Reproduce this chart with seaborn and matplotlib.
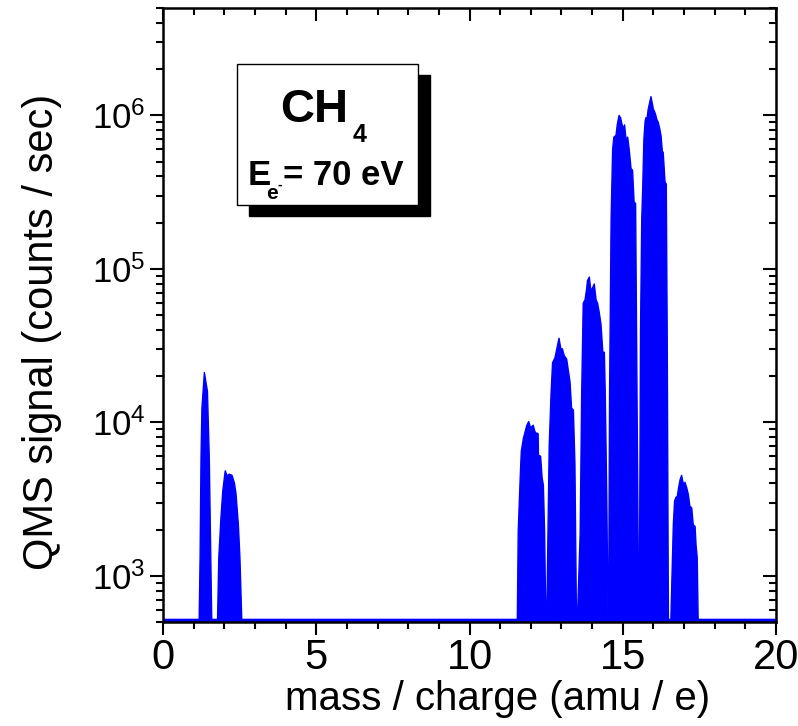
import numpy as np
import pandas as pd
import seaborn as sns
import matplotlib.pyplot as plt
from matplotlib.ticker import MultipleLocator, LogLocator, NullFormatter
from matplotlib.patches import Rectangle

base = 520  # background level of the scan

# peaks (m/z, counts/sec)
mz_h = [1.18, 1.21, 1.24, 1.27, 1.35, 1.45, 1.51, 1.56, 1.59]
sig_h = [base, 1310, 5840, 12300, 21100, 15900, 5840, 1310, base]

mz_h2 = [1.78, 1.82, 1.89, 1.95, 2.03, 2.10, 2.16, 2.25, 2.33, 2.38, 2.46, 2.51, 2.57]
sig_h2 = [base, 1310, 2380, 3560, 4830, 4460, 4590, 4520, 4020, 3460, 2140, 1310, base]

mz_c = [11.56, 11.59, 11.65, 11.69, 11.76, 11.82, 11.87, 11.93, 12.00, 12.04, 12.08,
        12.13, 12.17, 12.21, 12.24, 12.25, 12.32, 12.37, 12.41, 12.45, 12.49]
sig_c = [base, 1960, 4140, 6480, 7880, 8740, 9570, 10100, 9140, 9420, 9570,
         8740, 8490, 8490, 8400, 6110, 6010, 4330, 3900, 1960, base]

mz_ch = [12.52, 12.60, 12.66, 12.71, 12.79, 12.85, 12.92, 12.98, 13.03, 13.09, 13.17,
         13.22, 13.28, 13.33, 13.39, 13.44, 13.49]
sig_ch = [base, 6950, 15200, 24400, 26400, 30100, 35300, 30100, 30100, 27200, 25800,
          22000, 18300, 12400, 12000, 5340, base]

mz_ch2 = [13.52, 13.61, 13.66, 13.71, 13.77, 13.82, 13.85, 13.91, 13.96, 14.02, 14.07,
          14.13, 14.18, 14.23, 14.29, 14.35, 14.40, 14.43, 14.48, 14.52]
sig_ch2 = [base, 1870, 15200, 59500, 62900, 73600, 83800, 88400, 71600, 75500, 79600,
           62900, 59500, 52400, 43500, 28600, 28600, 15200, 3160, base]

mz_ch3 = [14.54, 14.57, 14.62, 14.67, 14.71, 14.78, 14.82, 14.88, 14.93, 14.98, 15.02,
          15.06, 15.11, 15.16, 15.21, 15.27, 15.32, 15.37, 15.42, 15.45, 15.49, 15.52]
sig_ch3 = [base, 15200, 210000, 600000, 721000, 740000, 866000, 998000, 962000, 866000, 822000,
           866000, 684000, 721000, 600000, 450000, 438000, 273000, 266000, 43500, 3160, base]

mz_ch4 = [15.54, 15.58, 15.62, 15.65, 15.69, 15.73, 15.76, 15.79, 15.83, 15.89, 15.92,
          15.96, 16.00, 16.03, 16.07, 16.11, 16.16, 16.21, 16.25, 16.29, 16.32, 16.38,
          16.42, 16.45, 16.49]
sig_ch4 = [base, 40000, 211000, 330000, 698000, 918000, 966000, 942000, 1094000, 1239000, 1322000,
           1208000, 1094000, 1067000, 1014000, 942000, 897000, 812000, 734000, 586000, 573000, 366000,
           357000, 40000, base]

mz_17 = [16.57, 16.62, 16.65, 16.69, 16.73, 16.78, 16.82, 16.87, 16.92, 16.96, 17.00,
         17.03, 17.09, 17.14, 17.19, 17.25, 17.30, 17.36, 17.39, 17.43, 17.46]
sig_17 = [base, 1310, 2150, 3050, 3240, 3290, 3730, 4220, 4510, 4120, 3820,
          4070, 3730, 3380, 2840, 2770, 2150, 2100, 1600, 1310, base]

mz = [0] + mz_h + mz_h2 + mz_c + mz_ch + mz_ch2 + mz_ch3 + mz_ch4 + mz_17 + [20]
sig = [base] + sig_h + sig_h2 + sig_c + sig_ch + sig_ch2 + sig_ch3 + sig_ch4 + sig_17 + [base]
df = pd.DataFrame({'mz': mz, 'signal': sig})

sns.set_style('ticks')
plt.rcParams['font.family'] = ['Liberation Sans', 'DejaVu Sans']
plt.rcParams['mathtext.fontset'] = 'custom'
plt.rcParams['mathtext.rm'] = 'Liberation Sans'
plt.rcParams['text.color'] = 'black'
plt.rcParams['axes.labelcolor'] = 'black'
plt.rcParams['xtick.color'] = 'black'
plt.rcParams['ytick.color'] = 'black'

fig = plt.figure(figsize=(7.98, 7.26), dpi=100)
ax = fig.add_axes([163 / 798, 1 - 622 / 726, 613 / 798, 614 / 726])

ax.set_yscale('log')
ax.fill_between(df['mz'], df['signal'], 1, color='blue', lw=0)
sns.lineplot(data=df, x='mz', y='signal', color='blue', lw=1, ax=ax, sort=False, estimator=None)

ax.set_xlim(0, 20)
ax.set_ylim(500, 5e6)
ax.set_xlabel('mass / charge (amu / e)', fontsize=29)
ax.set_ylabel('QMS signal (counts / sec)', fontsize=30)
ax.xaxis.set_label_coords(0.545, -0.094)
ax.yaxis.set_label_coords(-0.165, 0.472)

for s in ax.spines.values():
    s.set_visible(True)
    s.set_linewidth(1.8)
    s.set_color('black')

# inward ticks on top and right sides
for where in ('top', 'right'):
    if where == 'top':
        sec = ax.secondary_xaxis(where)
        sec.xaxis.set_major_locator(MultipleLocator(5))
        sec.xaxis.set_minor_locator(MultipleLocator(1))
        sec.xaxis.set_major_formatter(NullFormatter())
    else:
        sec = ax.secondary_yaxis(where)
        sec.set_yscale('log')
        sec.yaxis.set_major_locator(LogLocator(base=10, numticks=10))
        sec.yaxis.set_minor_locator(LogLocator(base=10, subs=np.arange(2, 10), numticks=20))
        sec.yaxis.set_major_formatter(NullFormatter())
        sec.yaxis.set_minor_formatter(NullFormatter())
    sec.tick_params(which='both', direction='in', width=1.5, color='black')
    sec.tick_params(which='major', length=9.5)
    sec.tick_params(which='minor', length=5)

# outward ticks and labels on bottom and left
ax.xaxis.set_ticks_position('bottom')
ax.yaxis.set_ticks_position('left')
ax.xaxis.set_major_locator(MultipleLocator(5))
ax.xaxis.set_minor_locator(MultipleLocator(1))
ax.yaxis.set_major_locator(LogLocator(base=10, numticks=10))
ax.yaxis.set_minor_locator(LogLocator(base=10, subs=np.arange(2, 10), numticks=20))
ax.yaxis.set_minor_formatter(NullFormatter())
ax.tick_params(which='both', direction='out', width=1.5, color='black')
ax.tick_params(which='major', length=9.5)
ax.tick_params(which='minor', length=5)
ax.tick_params(axis='x', labelsize=30, pad=2)
ax.tick_params(axis='y', labelsize=25, pad=3)
for t in ax.xaxis.get_major_ticks() + ax.xaxis.get_minor_ticks() + ax.yaxis.get_major_ticks() + ax.yaxis.get_minor_ticks():
    t.tick1line.set_clip_on(False)


def fx(px):
    return px / 798


def fy(py):
    return 1 - py / 726


# label box with drop shadow
fig.patches.append(Rectangle((fx(249), fy(216)), 181 / 798, 141 / 726, transform=fig.transFigure,
                             facecolor='black', edgecolor='black', zorder=5))
fig.patches.append(Rectangle((fx(237), fy(205)), 181 / 798, 141 / 726, transform=fig.transFigure,
                             facecolor='white', edgecolor='black', lw=1, zorder=6))
fig.text(fx(280), fy(122), 'CH', fontsize=34, fontweight='bold', va='baseline', ha='left', zorder=7)
fig.text(fx(353), fy(142), '4', fontsize=18, fontweight='bold', va='baseline', ha='left', zorder=7)
fig.text(fx(248), fy(185), 'E', fontsize=25, fontweight='bold', va='baseline', ha='left', zorder=7)
fig.text(fx(266), fy(199), 'e', fontsize=15, fontweight='bold', va='baseline', ha='left', zorder=7)
fig.text(fx(277), fy(189), '-', fontsize=10, fontweight='bold', va='baseline', ha='left', zorder=7)
fig.text(fx(283), fy(185), '= 70 eV', fontsize=25, fontweight='bold', va='baseline', ha='left', zorder=7)

fig.savefig('out.png', dpi=100)
